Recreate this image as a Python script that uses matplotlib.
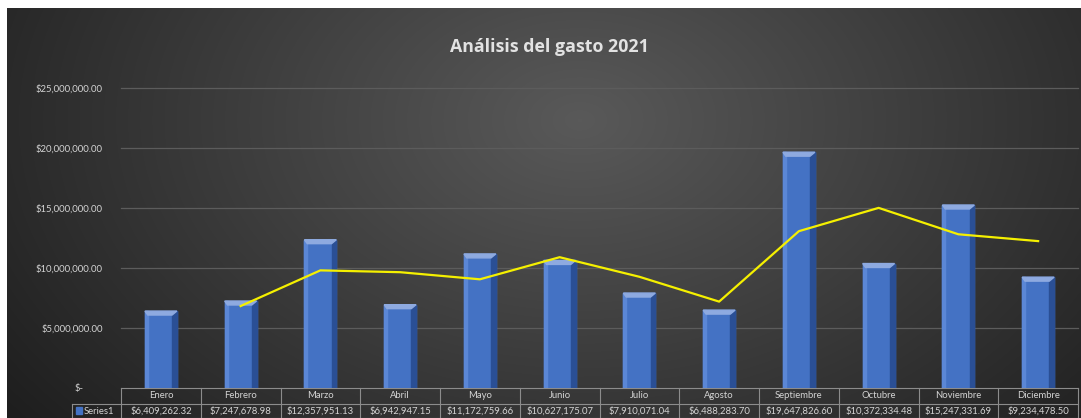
import numpy as np
import matplotlib.pyplot as plt
import matplotlib.transforms as mtransforms
from matplotlib.patches import Polygon, Rectangle

plt.rcParams['font.family'] = ['Lato', 'DejaVu Sans']

meses = ['Enero', 'Febrero', 'Marzo', 'Abril', 'Mayo', 'Junio', 'Julio',
         'Agosto', 'Septiembre', 'Octubre', 'Noviembre', 'Diciembre']
gasto = [6409262.32, 7247678.98, 12357951.13, 6942947.15, 11172759.66,
         10627175.07, 7910071.04, 6488283.70, 19647826.60, 10372334.48,
         15247331.69, 9234478.50]
etiquetas = ['$6,409,262.32', '$7,247,678.98', '$12,357,951.13', '$6,942,947.15',
             '$11,172,759.66', '$10,627,175.07', '$7,910,071.04', '$6,488,283.70',
             '$19,647,826.60', '$10,372,334.48', '$15,247,331.69', '$9,234,478.50']
# media movil (2 periodos), desde febrero
media_x = [1, 2, 3, 4, 5, 6, 7, 8, 9, 10, 11]
media = [6828470.65, 9802815.06, 9650449.14, 9057853.41, 10899967.37,
         9268623.06, 7199177.37, 13068055.15, 15010080.54, 12809833.09,
         12240905.10]
yticks = [0, 5e6, 10e6, 15e6, 20e6, 25e6]
ylabels = ['$-', '$5,000,000.00', '$10,000,000.00', '$15,000,000.00',
           '$20,000,000.00', '$25,000,000.00']

W, H = 1081, 418
fig = plt.figure(figsize=(W / 100, H / 100), dpi=100)
fig.patch.set_facecolor('white')

# fondo con degradado
bg = fig.add_axes([0, 0, 1, 1], zorder=0)
bg.set_xlim(0, W)
bg.set_ylim(H, 0)
bg.axis('off')
xx, yy = np.meshgrid(np.linspace(7, W, 400), np.linspace(8, H, 200))
r = np.sqrt(((xx - 580) / 620) ** 2 + ((yy - 120) / 420) ** 2)
v = np.clip(0.35 - 0.2 * r, 0.12, 0.35)
img = np.dstack([v, v, v])
bg.imshow(img, extent=(7, W, H, 8), aspect='auto', interpolation='bicubic')

# area de trazado
x0, x1 = 121, 1078
y_top, y_zero = 88, 388
ax = fig.add_axes([x0 / W, 1 - y_zero / H, (x1 - x0) / W, (y_zero - y_top) / H], zorder=1)
ax.set_facecolor('none')
ax.set_xlim(-0.5, 11.5)
ax.set_ylim(0, 25e6)
for s in ax.spines.values():
    s.set_visible(False)
ax.set_xticks([])
ax.set_yticks(yticks)
ax.set_yticklabels(ylabels, color='#d4d4d4', fontsize=6.8)
ax.tick_params(axis='y', length=0, pad=13)
ax.get_yticklabels()[0].set_x(-0.02)
for t in yticks[1:]:
    ax.axhline(t, color='#5c5c5c', lw=0.9, zorder=1, clip_on=False)

# barras con bisel
bw = 0.4
bev = 0.06
bev_y = 0.33e6
for i, val in enumerate(gasto):
    left = i - bw / 2
    ax.add_patch(Rectangle((left, 0), bw, val, color='#4472c4', zorder=2))
    ax.add_patch(Rectangle((left + bw - bev, 0), bev, val, color='#2a4f95', zorder=3))
    ax.add_patch(Rectangle((left, 0), bev * 0.6, val, color='#5b87d6', zorder=3))
    ax.add_patch(Polygon([(left, val), (left + bw, val), (left + bw - bev, val - bev_y),
                          (left + bev * 0.6, val - bev_y)], closed=True,
                         color='#8eaae0', zorder=4))

ax.plot(media_x, media, color='#f5f000', lw=1.6, zorder=5)

# titulo
fig.text(549 / W, 1 - 47 / H, 'Análisis del gasto 2021', ha='center', va='center',
         fontsize=12.8, fontweight='bold', color='#e2e2e2', family='Open Sans')

# tabla de datos
tr = mtransforms.blended_transform_factory(ax.transData, bg.transData)
lc = '#8c8c8c'
row1, row2, row3 = 388, 404, 418
bg.plot([x0, x1], [row1, row1], color=lc, lw=0.8, zorder=2)
bg.plot([72, x1], [row2, row2], color=lc, lw=0.8, zorder=2)
bg.plot([72, x1], [row3 - 0.5, row3 - 0.5], color=lc, lw=0.8, zorder=2)
bg.plot([72, 72], [row2, row3], color=lc, lw=0.8, zorder=2)
for k in range(13):
    ax.plot([k - 0.5, k - 0.5], [row1, row3], color=lc, lw=0.8, transform=tr,
            clip_on=False, zorder=2)
for i, m in enumerate(meses):
    ax.text(i, (row1 + row2) / 2, m, transform=tr, ha='center', va='center',
            fontsize=6.8, color='#d4d4d4', clip_on=False)
    ax.text(i, (row2 + row3) / 2, etiquetas[i], transform=tr, ha='center', va='center',
            fontsize=6.8, color='#d4d4d4', clip_on=False)
bg.add_patch(Rectangle((76, 407), 6, 7, color='#4472c4', zorder=3))
bg.text(84, (row2 + row3) / 2, 'Series1', ha='left', va='center', fontsize=6.8,
        color='#d4d4d4')

fig.savefig('out.png', dpi=100, facecolor=fig.get_facecolor())
